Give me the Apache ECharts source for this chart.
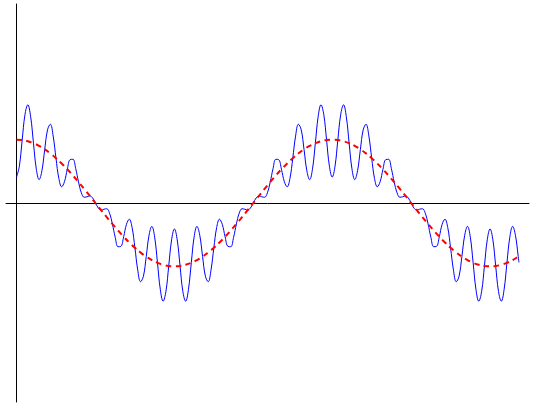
<!DOCTYPE html>
<html>
<head>
<meta charset="utf-8">
<script src="https://cdn.jsdelivr.net/npm/echarts@6/dist/echarts.min.js"></script>
<style>
html,body{margin:0;padding:0;background:#fff;}
#chart{width:535px;height:403px;}
</style>
</head>
<body>
<div id="chart"></div>
<script>
// x positions (radians), main sample grid
const xs = [0, 0.112, 0.224, 0.337, 0.449, 0.561, 0.673, 0.785, 0.898, 1.010,
 1.122, 1.234, 1.346, 1.459, 1.571, 1.683, 1.795, 1.907, 2.020, 2.132,
 2.244, 2.356, 2.468, 2.581, 2.693, 2.805, 2.917, 3.029, 3.142, 3.254,
 3.366, 3.478, 3.590, 3.703, 3.815, 3.927, 4.039, 4.151, 4.264, 4.376,
 4.488, 4.600, 4.712, 4.825, 4.937, 5.049, 5.161, 5.273, 5.386, 5.498,
 5.610, 5.722, 5.834, 5.947, 6.059, 6.171, 6.283, 6.395, 6.508, 6.620,
 6.732, 6.844, 6.956, 7.069, 7.181, 7.293, 7.405, 7.517, 7.630, 7.742,
 7.854, 7.966, 8.078, 8.191, 8.303, 8.415, 8.527, 8.639, 8.752, 8.864,
 8.976, 9.088, 9.200, 9.313, 9.425, 9.537, 9.649, 9.761, 9.874, 9.986,
 10];

// modulated signal (blue solid) on main grid
const blueVals = [0.410, 0.994, 1.550, 0.944, 0.369, 0.847, 1.243, 0.707, 0.256, 0.532,
 0.690, 0.330, 0.091, 0.112, 0.000, -0.112, -0.091, -0.330, -0.690, -0.532,
 -0.256, -0.707, -1.243, -0.847, -0.369, -0.944, -1.550, -0.994, -0.410, -0.994,
 -1.550, -0.944, -0.369, -0.847, -1.243, -0.707, -0.256, -0.532, -0.690, -0.330,
 -0.091, -0.112, 0.000, 0.112, 0.091, 0.330, 0.690, 0.532, 0.256, 0.707,
 1.243, 0.847, 0.369, 0.944, 1.550, 0.994, 0.410, 0.994, 1.550, 0.944,
 0.369, 0.847, 1.243, 0.707, 0.256, 0.532, 0.690, 0.330, 0.091, 0.112,
 0.000, -0.112, -0.091, -0.330, -0.690, -0.532, -0.256, -0.707, -1.243, -0.847,
 -0.369, -0.944, -1.550, -0.994, -0.410, -0.994, -1.550, -0.944, -0.369, -0.847,
 -0.938];

// extra in-between x positions for the blue signal
const xsMid = [0.056, 0.168, 0.281, 0.393, 0.505, 0.617, 0.729, 0.842, 0.954, 1.066,
 1.178, 1.290, 1.403, 1.515, 1.627, 1.739, 1.851, 1.964, 2.076, 2.188,
 2.300, 2.412, 2.525, 2.637, 2.749, 2.861, 2.973, 3.086, 3.198, 3.310,
 3.422, 3.534, 3.647, 3.759, 3.871, 3.983, 4.095, 4.208, 4.320, 4.432,
 4.544, 4.656, 4.769, 4.881, 4.993, 5.105, 5.217, 5.330, 5.442, 5.554,
 5.666, 5.778, 5.891, 6.003, 6.115, 6.227, 6.339, 6.452, 6.564, 6.676,
 6.788, 6.900, 7.013, 7.125, 7.237, 7.349, 7.461, 7.574, 7.686, 7.798,
 7.910, 8.022, 8.135, 8.247, 8.359, 8.471, 8.583, 8.696, 8.808, 8.920,
 9.032, 9.144, 9.257, 9.369, 9.481, 9.593, 9.705, 9.818, 9.930];

const blueMid = [0.582, 1.397, 1.362, 0.539, 0.510, 1.156, 1.056, 0.388, 0.337, 0.685,
 0.542, 0.161, 0.098, 0.079, -0.079, -0.098, -0.161, -0.542, -0.685, -0.337,
 -0.388, -1.056, -1.156, -0.510, -0.539, -1.362, -1.397, -0.582, -0.582, -1.397,
 -1.362, -0.539, -0.510, -1.156, -1.056, -0.388, -0.337, -0.685, -0.542, -0.161,
 -0.098, -0.079, 0.079, 0.098, 0.161, 0.542, 0.685, 0.337, 0.388, 1.056,
 1.156, 0.510, 0.539, 1.362, 1.397, 0.582, 0.582, 1.397, 1.362, 0.539,
 0.510, 1.156, 1.056, 0.388, 0.337, 0.685, 0.542, 0.161, 0.098, 0.079,
 -0.079, -0.098, -0.161, -0.542, -0.685, -0.337, -0.388, -1.056, -1.156, -0.510,
 -0.539, -1.362, -1.397, -0.582, -0.582, -1.397, -1.362, -0.539, -0.510];

// carrier (red dashed)
const redVals = [1.000, 0.994, 0.975, 0.944, 0.901, 0.847, 0.782, 0.707, 0.623, 0.532,
 0.434, 0.330, 0.223, 0.112, 0.000, -0.112, -0.223, -0.330, -0.434, -0.532,
 -0.623, -0.707, -0.782, -0.847, -0.901, -0.944, -0.975, -0.994, -1.000, -0.994,
 -0.975, -0.944, -0.901, -0.847, -0.782, -0.707, -0.623, -0.532, -0.434, -0.330,
 -0.223, -0.112, 0.000, 0.112, 0.223, 0.330, 0.434, 0.532, 0.623, 0.707,
 0.782, 0.847, 0.901, 0.944, 0.975, 0.994, 1.000, 0.994, 0.975, 0.944,
 0.901, 0.847, 0.782, 0.707, 0.623, 0.532, 0.434, 0.330, 0.223, 0.112,
 0.000, -0.112, -0.223, -0.330, -0.434, -0.532, -0.623, -0.707, -0.782, -0.847,
 -0.901, -0.944, -0.975, -0.994, -1.000, -0.994, -0.975, -0.944, -0.901, -0.847,
 -0.839];

const blueData = xs.map((x, i) => [x, blueVals[i]])
  .concat(xsMid.map((x, i) => [x, blueMid[i]]))
  .sort((a, b) => a[0] - b[0]);
const redData = xs.map((x, i) => [x, redVals[i]]);

const chart = echarts.init(document.getElementById('chart'), null, {renderer: 'canvas'});
chart.setOption({
  animation: false,
  backgroundColor: '#ffffff',
  grid: {left: 6, right: 6, top: 4, bottom: 1, containLabel: false},
  xAxis: {
    type: 'value', min: -0.21, max: 10.2,
    axisLine: {show: true, onZero: true, lineStyle: {color: '#000', width: 1}},
    axisTick: {show: false}, axisLabel: {show: false}, splitLine: {show: false}
  },
  yAxis: {
    type: 'value', min: -Math.PI, max: Math.PI,
    axisLine: {show: true, onZero: true, lineStyle: {color: '#000', width: 1}},
    axisTick: {show: false}, axisLabel: {show: false}, splitLine: {show: false}
  },
  series: [
    {
      type: 'line', data: blueData, showSymbol: false, smooth: 0.4,
      lineStyle: {color: '#0000ff', width: 1}, z: 3
    },
    {
      type: 'line', data: redData, showSymbol: false, smooth: true,
      lineStyle: {color: '#ff0000', width: 2, type: [5.5, 4.5]}, z: 4
    }
  ]
});
</script>
</body>
</html>
